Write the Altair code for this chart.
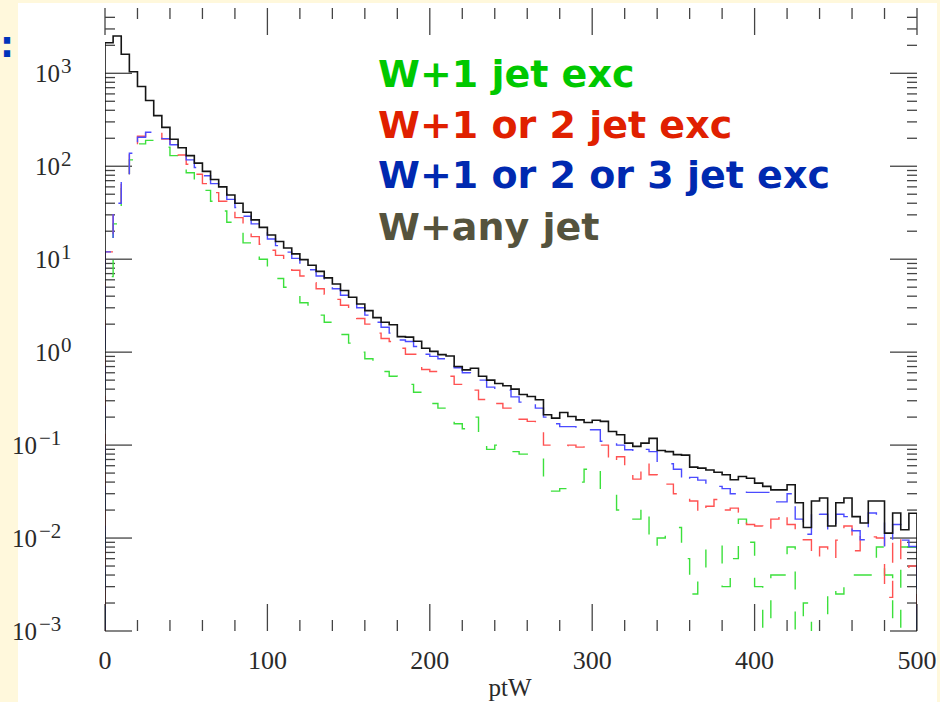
import altair as alt
import pandas as pd

# ---------------- data ----------------
bin_width = 5
n_bins = 100

# W+any jet (black, solid)
any_jet = [2130, 2520, 1600, 1040, 720, 510, 350, 262, 195, 158,
           130, 108, 88, 72, 60, 49, 40, 32, 26.5, 22,
           18.2, 15.5, 13.2, 11.4, 9.9, 8.6, 7.4, 6.3, 5.4, 4.6,
           3.9, 3.3, 2.8, 2.35, 2.1, 1.97, 1.47, 1.45, 1.31, 1.1,
           1.02, 0.94, 0.91, 0.70, 0.645, 0.67, 0.55, 0.50, 0.46, 0.435,
           0.40, 0.35, 0.333, 0.307, 0.212, 0.195, 0.224, 0.203, 0.187, 0.175,
           0.185, 0.18, 0.14, 0.129, 0.105, 0.097, 0.105, 0.118, 0.0875, 0.085,
           0.079, 0.078, 0.058, 0.0565, 0.054, 0.051, 0.048, 0.0424, 0.046, 0.044,
           0.039, 0.036, 0.033, 0.033, 0.0374, 0.024, 0.013, 0.025, 0.027, 0.0135,
           0.024, 0.027, 0.017, 0.0145, 0.025, 0.025, 0.0113, 0.0186, 0.0123, 0.0185]

# W+1 or 2 or 3 jet exc (blue, dashed)
upto3 = [12, 40, 80, 138, 205, 232, 225, 198, 170, 142,
         117, 97, 79, 65, 54, 44, 36, 29, 24, 20,
         16.5, 14, 11.9, 10.2, 8.9, 7.7, 6.6, 5.6, 4.8, 4.1,
         3.5, 3.0, 2.5, 2.1, 1.85, 1.6, 1.35, 1.3, 1.15, 0.95,
         0.9, 0.85, 0.79, 0.68, 0.6, 0.57, 0.5, 0.42, 0.40, 0.39,
         0.33, 0.29, 0.27, 0.25, 0.2, 0.17, 0.158, 0.158, 0.15, 0.146,
         0.146, 0.11, 0.11, 0.1, 0.089, 0.085, 0.09, 0.085, 0.063, 0.063,
         0.055, 0.04, 0.045, 0.042, 0.036, 0.036, 0.034, 0.03, 0.033, 0.031,
         0.031, 0.031, 0.0245, 0.0245, 0.03, 0.016, 0.011, 0.02, 0.018, 0.012,
         0.018, 0.017, 0.012, 0.0096, 0.0186, 0.017, 0.008, 0.014, 0.0095, 0.0081]

# W+1 or 2 jet exc (red, dashed)
upto2 = [12, 40, 80, 138, 210, 235, 230, 196, 160, 132,
         105, 82, 65, 52, 42, 35, 28, 22, 17.5, 14.5,
         12.5, 11, 8.8, 7.6, 6.6, 5.6, 4.8, 4.2, 3.7, 3.2,
         2.7, 2.3, 2.0, 1.6, 1.4, 1.3, 1.1, 0.95, 0.95, 0.65,
         0.62, 0.6, 0.55, 0.45, 0.42, 0.39, 0.31, 0.27, 0.28, 0.25,
         0.21, 0.19, 0.18, 0.17, 0.1, 0.1, 0.098, 0.1, 0.095, 0.1,
         0.1, 0.1, 0.063, 0.075, 0.06, 0.043, 0.065, 0.048, 0.04, 0.038,
         0.03, 0.027, 0.025, 0.018, 0.022, 0.026, 0.02, 0.021, 0.019, 0.014,
         0.0135, 0.0115, 0.016, 0.019, 0.014, 0.01, 0.0096, 0.006, 0.008, 0.006,
         0.0095, 0.0135, 0.0073, 0.011, 0.0103, 0.01, 0.0023, 0.0105, 0.0047, 0.005]

# W+1 jet exc (green, dashed); 0 = empty bin
only1 = [6.5, 24, 60, 117, 174, 190, 180, 160, 130, 105,
         85, 68, 55, 42, 33, 25, 20, 15, 12.5, 10,
         7.5, 6.2, 5, 4.1, 3.4, 2.9, 2.5, 2.1, 1.8, 1.55,
         1.25, 1.0, 0.85, 0.72, 0.62, 0.55, 0.5, 0.45, 0.37, 0.33,
         0.28, 0.25, 0.24, 0.17, 0.15, 0.2, 0.12, 0.09, 0.1, 0.09,
         0.085, 0.08, 0.078, 0.08, 0.04, 0.032, 0.034, 0.038, 0.04, 0.055,
         0.06, 0.03, 0.03, 0.02, 0.016, 0.016, 0.022, 0.008, 0.01, 0.011,
         0.013, 0.006, 0.0025, 0.004, 0.0085, 0.0085, 0.003, 0.006, 0.016, 0.009,
         0.003, 0, 0.004, 0.004, 0.008, 0, 0.002, 0, 0, 0.003,
         0.0025, 0.004, 0.004, 0.004, 0.004, 0.008, 0.004, 0, 0.008, 0.008]

series_names = ["W+1 jet exc", "W+1 or 2 jet exc", "W+1 or 2 or 3 jet exc", "W+any jet"]
x_tick_labels = [0, 100, 200, 300, 400, 500]
x_minor = [v for v in range(20, 500, 20) if v % 100 != 0]
y_major = [1000, 100, 10, 1, 0.1, 0.01, 0.001]
y_exp_pos = ["3", "2", "1", "0"]
y_exp_neg = ["\u22121", "\u22122", "\u22123"]
y_minor = [k * 10.0 ** e for e in range(-3, 4) for k in range(2, 10) if k * 10.0 ** e < 5000]

# ---------------- layout / style ----------------
W, H = 812, 623
FLOOR = 1e-6
FONT_AX = "Liberation Serif"
FONT_LEG = "DejaVu Sans"
TXT = "#2a2a2a"

xscale = alt.Scale(domain=[0, 500], nice=False, zero=False)
yscale = alt.Scale(type="log", domain=[0.001, 5040], nice=False)


def hist_frame(vals):
    rows = [{"x": 0, "y": FLOOR, "i": 0}]
    for k, v in enumerate(vals):
        rows.append({"x": k * bin_width, "y": v if v > 0 else FLOOR, "i": k + 1})
    rows.append({"x": n_bins * bin_width, "y": vals[-1] if vals[-1] > 0 else FLOOR, "i": n_bins + 1})
    rows.append({"x": n_bins * bin_width, "y": FLOOR, "i": n_bins + 2})
    return pd.DataFrame(rows)


def series_layer(vals, color, dash, width):
    mk = dict(interpolate="step-after", clip=True, color=color, strokeWidth=width)
    if dash:
        mk["strokeDash"] = dash
    return alt.Chart(hist_frame(vals)).mark_line(**mk).encode(
        x=alt.X("x:Q", scale=xscale, axis=None),
        y=alt.Y("y:Q", scale=yscale, axis=None),
        order=alt.Order("i:Q"),
    )


bg = alt.Chart(alt.Data(values=[{"a": 1}])).mark_rect(color="white").encode(
    x=alt.value(-87), x2=alt.value(832), y=alt.value(-5), y2=alt.value(694))

tick_color = "#444"


def xticks(vals, length):
    d = pd.DataFrame({"v": vals})
    bot = alt.Chart(d).mark_rule(color=tick_color, strokeWidth=1.3).encode(
        x=alt.X("v:Q", scale=xscale, axis=None), y=alt.value(H), y2=alt.value(H - length))
    top = alt.Chart(d).mark_rule(color=tick_color, strokeWidth=1.3).encode(
        x=alt.X("v:Q", scale=xscale, axis=None), y=alt.value(0), y2=alt.value(length))
    return [bot, top]


def yticks(vals, length):
    d = pd.DataFrame({"v": vals})
    left = alt.Chart(d).mark_rule(color=tick_color, strokeWidth=1.3).encode(
        y=alt.Y("v:Q", scale=yscale, axis=None), x=alt.value(0), x2=alt.value(length))
    right = alt.Chart(d).mark_rule(color=tick_color, strokeWidth=1.3).encode(
        y=alt.Y("v:Q", scale=yscale, axis=None), x=alt.value(W - length), x2=alt.value(W))
    return [left, right]


ticks = (xticks(x_tick_labels, 27) + xticks(x_minor, 11)
         + yticks(y_major, 27) + yticks(y_minor, 10))

# x tick labels
xlab = alt.Chart(pd.DataFrame({"v": x_tick_labels})).mark_text(
    align="center", baseline="alphabetic", font=FONT_AX, fontSize=26, color=TXT).encode(
    x=alt.X("v:Q", scale=xscale, axis=None), y=alt.value(H + 38), text=alt.Text("v:Q", format="d"))

# y tick labels as 10 + superscript
pos_df = pd.DataFrame({"v": y_major[:4], "b": ["10"] * 4, "e": y_exp_pos})
neg_df = pd.DataFrame({"v": y_major[4:], "b": ["10"] * 3, "e": y_exp_neg})


def ylabels(df, base_right, exp_left):
    base = alt.Chart(df).mark_text(align="right", baseline="alphabetic", dy=8.5,
                                   font=FONT_AX, fontSize=25, color=TXT).encode(
        y=alt.Y("v:Q", scale=yscale, axis=None), x=alt.value(base_right), text="b:N")
    exp = alt.Chart(df).mark_text(align="left", baseline="alphabetic", dy=0,
                                  font=FONT_AX, fontSize=21, color=TXT).encode(
        y=alt.Y("v:Q", scale=yscale, axis=None), x=alt.value(exp_left), text="e:N")
    return [base, exp]


ylab = ylabels(pos_df, -45, -44) + ylabels(neg_df, -68, -66)

legend_colors = ["#00C800", "#E02000", "#0029B0", "#55533D"]
legend_base = [79, 130, 180, 232]
legend = []
for name, col, yb in zip(series_names, legend_colors, legend_base):
    legend.append(
        alt.Chart(alt.Data(values=[{"t": name}])).mark_text(
            align="left", baseline="alphabetic", font=FONT_LEG, fontWeight="bold",
            fontSize=38, color=col).encode(x=alt.value(273), y=alt.value(yb), text="t:N"))

colon = alt.Chart(alt.Data(values=[{"t": ":"}])).mark_text(
    align="center", baseline="alphabetic", font=FONT_LEG, fontWeight="bold",
    fontSize=35, color="#0033BB").encode(x=alt.value(-98), y=alt.value(49), text="t:N")

xtitle = alt.Chart(alt.Data(values=[{"t": "ptW"}])).mark_text(
    align="center", baseline="alphabetic", font=FONT_AX, fontSize=25,
    color=TXT).encode(x=alt.value(405), y=alt.value(688), text="t:N")

lines = [
    series_layer(only1, "#3CE03C", [18, 22], 1.4),
    series_layer(upto2, "#FF5252", [20, 18], 1.4),
    series_layer(upto3, "#4B4BFF", [24, 16], 1.4),
    series_layer(any_jet, "#151515", None, 1.6),
]

chart = alt.layer(bg, *ticks, *lines, xlab, *ylab, *legend, colon, xtitle).properties(
    width=W, height=H,
    padding={"left": 105, "top": 8, "right": 23, "bottom": 71},
    autosize=alt.AutoSizeParams(type="none"),
    background="#FFF8DC",
).configure_view(stroke="#222", strokeWidth=1.6)

chart.save("out.html", embed_options={"renderer": "svg", "actions": False})
